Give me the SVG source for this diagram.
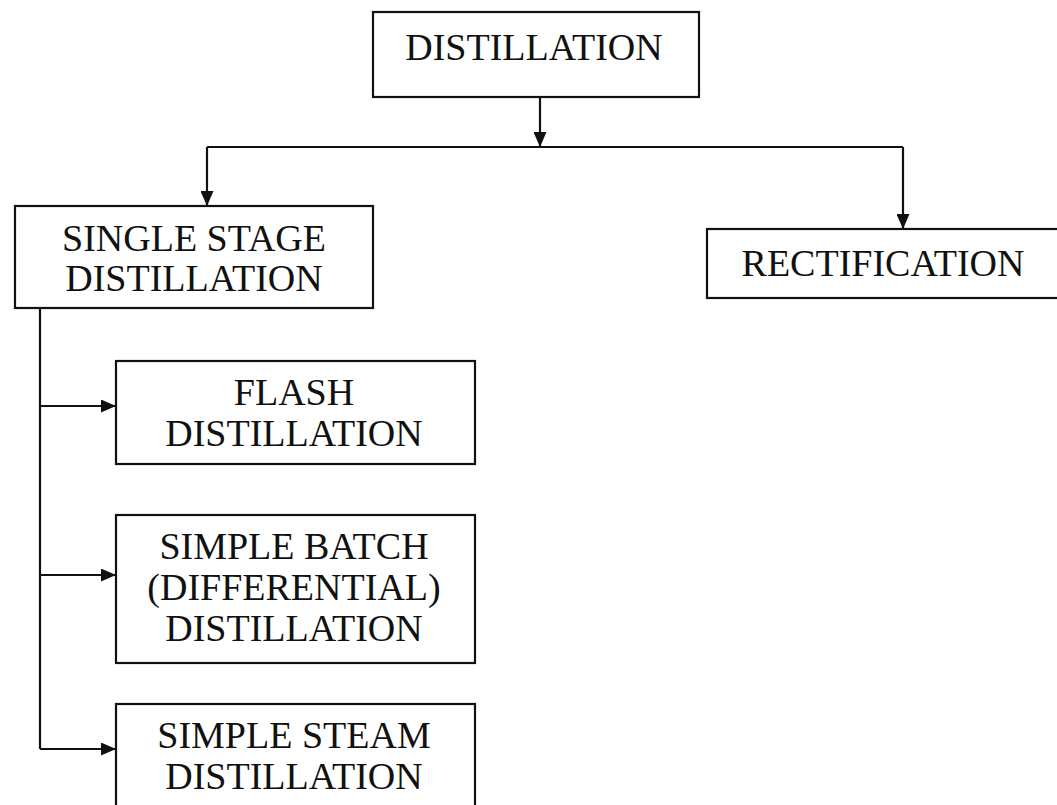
<svg xmlns="http://www.w3.org/2000/svg" width="1057" height="805" viewBox="0 0 1057 805">
  <style>
    .box { fill: #ffffff; stroke: #111111; stroke-width: 2.2; }
    .lbl { font-family: "Liberation Serif", "Times New Roman", serif; font-size: 38px; fill: #111111; text-anchor: middle; }
    .wire { fill: none; stroke: #111111; stroke-width: 2.2; }
  </style>
  <defs>
    <marker id="arrow" viewBox="0 0 15 13" refX="15" refY="6.5" markerWidth="15" markerHeight="13" markerUnits="userSpaceOnUse" orient="auto">
      <path d="M0,0 L15,6.5 L0,13 Z" fill="#111111"/>
    </marker>
  </defs>
  <rect width="1057" height="805" fill="#ffffff"/>

  <g id="connectors">
    <path class="wire" d="M540,97 L540,147" marker-end="url(#arrow)"/>
    <path class="wire" d="M207,147 L903,147"/>
    <path class="wire" d="M207,147 L207,206" marker-end="url(#arrow)"/>
    <path class="wire" d="M903,147 L903,229" marker-end="url(#arrow)"/>
    <path class="wire" d="M40,308 L40,749"/>
    <path class="wire" d="M40,406 L116,406" marker-end="url(#arrow)"/>
    <path class="wire" d="M40,575 L116,575" marker-end="url(#arrow)"/>
    <path class="wire" d="M40,749 L116,749" marker-end="url(#arrow)"/>
  </g>

  <g id="distillation">
    <rect class="box" x="373" y="12" width="326" height="85"/>
    <text class="lbl" x="534" y="60">DISTILLATION</text>
  </g>

  <g id="single-stage">
    <rect class="box" x="15" y="206" width="358" height="102"/>
    <text class="lbl" x="194" y="251">SINGLE STAGE</text>
    <text class="lbl" x="194" y="291">DISTILLATION</text>
  </g>

  <g id="rectification">
    <rect class="box" x="707" y="229" width="360" height="69"/>
    <text class="lbl" x="883" y="276">RECTIFICATION</text>
  </g>

  <g id="flash">
    <rect class="box" x="116" y="361" width="359" height="103"/>
    <text class="lbl" x="294" y="405">FLASH</text>
    <text class="lbl" x="294" y="446">DISTILLATION</text>
  </g>

  <g id="simple-batch">
    <rect class="box" x="116" y="515" width="359" height="148"/>
    <text class="lbl" x="294" y="559">SIMPLE BATCH</text>
    <text class="lbl" x="294" y="600">(DIFFERENTIAL)</text>
    <text class="lbl" x="294" y="641">DISTILLATION</text>
  </g>

  <g id="simple-steam">
    <rect class="box" x="116" y="704" width="359" height="120"/>
    <text class="lbl" x="294" y="748">SIMPLE STEAM</text>
    <text class="lbl" x="294" y="789">DISTILLATION</text>
  </g>
</svg>
